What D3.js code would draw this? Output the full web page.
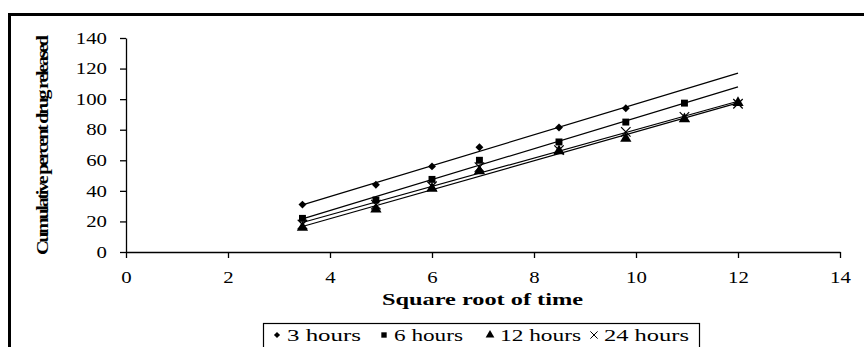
<!DOCTYPE html>
<html>
<head>
<meta charset="utf-8">
<script src="https://cdn.jsdelivr.net/npm/d3@7"></script>
<style>
  body { margin: 0; background: #fff; }
  svg text { font-family: "Liberation Serif", "Times New Roman", serif; fill: #000; }
</style>
</head>
<body>
<svg id="chart" width="864" height="347"></svg>
<script>
// sqrt(time) sampling points
const xs = [3.46, 4.9, 6, 6.93, 8.49, 9.8, 10.95, 12];

// cumulative percent drug released per series (null = no point)
const hours3 = [31, 44, 56, 68.5, 81.5, 94, null, null];
const hours6 = [22, 34, 47.5, 60, 72, 85, 97.4, null];
const hours12 = [16, 28, 41.6, 53, 66, 74.3, 87, 97.6];
const hours24 = [18, 31, 43, 55.5, 66.7, 78.6, 88.4, 97];

const seriesNames = ['3 hours', '6 hours', '12 hours', '24 hours'];
const xTicks = [0, 2, 4, 6, 8, 10, 12, 14];
const yTicks = [0, 20, 40, 60, 80, 100, 120, 140];

const series = [
  { name: seriesNames[0], values: hours3, symbol: d3.symbolDiamond2, size: 40 },
  { name: seriesNames[1], values: hours6, symbol: d3.symbolSquare, size: 48 },
  { name: seriesNames[2], values: hours12, symbol: d3.symbolTriangle, size: 55 },
  { name: seriesNames[3], values: hours24, symbol: d3.symbolTimes, size: 60 }
];

const svg = d3.select('#chart');
const stretch = 1.3; // the original text is drawn wide

// outer frame (cut off at right and bottom like the original)
svg.append('rect')
  .attr('x', 9.5).attr('y', 14.5)
  .attr('width', 900).attr('height', 400)
  .attr('fill', 'none').attr('stroke', '#000').attr('stroke-width', 3);

const x = d3.scaleLinear().domain([0, 14]).range([126, 840]);
const y = d3.scaleLinear().domain([0, 140]).range([252, 38]);

const yAxis = svg.append('g')
  .attr('transform', 'translate(126,0)')
  .call(d3.axisLeft(y).tickValues(yTicks).tickSize(6).tickSizeOuter(0));
const xAxis = svg.append('g')
  .attr('transform', 'translate(0,252)')
  .call(d3.axisBottom(x).tickValues(xTicks).tickSize(6).tickSizeOuter(0));

[xAxis, yAxis].forEach(a => {
  a.select('.domain').attr('stroke', '#000').attr('stroke-width', 1.3);
  a.selectAll('.tick line').attr('stroke', '#000').attr('stroke-width', 1.3);
  a.selectAll('.tick text')
    .attr('font-size', 16)
    .attr('font-family', '"Liberation Serif", serif');
});
yAxis.selectAll('.tick text')
  .attr('x', -19 / stretch).attr('dy', '0.33em')
  .attr('transform', `scale(${stretch},1)`);
xAxis.selectAll('.tick text')
  .attr('y', 0).attr('dy', 0)
  .attr('transform', `translate(0,31) scale(${stretch},1)`);

// trendlines (least squares fit of each series)
function fit(vals) {
  const pts = xs.map((xv, i) => [xv, vals[i]]).filter(p => p[1] != null);
  const mx = d3.mean(pts, p => p[0]), my = d3.mean(pts, p => p[1]);
  const b = d3.sum(pts, p => (p[0] - mx) * (p[1] - my)) / d3.sum(pts, p => (p[0] - mx) ** 2);
  return xv => my + b * (xv - mx);
}

const line = d3.line().x(d => x(d[0])).y(d => y(d[1]));
series.forEach(s => {
  const f = fit(s.values);
  const ends = [xs[0], xs[xs.length - 1]];
  svg.append('path')
    .attr('d', line(ends.map(xv => [xv, f(xv)])))
    .attr('fill', 'none').attr('stroke', '#000').attr('stroke-width', 1.2);
});

// markers
series.forEach(s => {
  const sym = d3.symbol().type(s.symbol).size(s.size);
  svg.append('g').selectAll('path')
    .data(xs.map((xv, i) => [xv, s.values[i]]).filter(d => d[1] != null))
    .enter().append('path')
    .attr('transform', d => `translate(${x(d[0])},${y(d[1])})`)
    .attr('d', sym)
    .attr('fill', s.symbol === d3.symbolTimes ? 'none' : '#000')
    .attr('stroke', '#000')
    .attr('stroke-width', s.symbol === d3.symbolTimes ? 1.2 : 0);
});

// axis titles
svg.append('text')
  .attr('x', 382).attr('y', 305)
  .attr('font-size', 16).attr('font-weight', 'bold')
  .attr('textLength', 201).attr('lengthAdjust', 'spacingAndGlyphs')
  .text('Square root of time');

// y title: wide glyphs squeezed together, as in the original
const yStretch = 1.25;
svg.append('text')
  .attr('transform', `translate(48,145) rotate(-90) scale(${yStretch},1)`)
  .attr('text-anchor', 'middle')
  .attr('font-size', 16).attr('font-weight', 'bold')
  .attr('textLength', 220 / yStretch).attr('lengthAdjust', 'spacing')
  .text('Cumulative percent drug released');

// legend
const legend = svg.append('g');
legend.append('rect')
  .attr('x', 263.5).attr('y', 323.5).attr('width', 436).attr('height', 40)
  .attr('fill', '#fff').attr('stroke', '#000').attr('stroke-width', 1.2);

const legendX = [277, 384, 490, 594];
const legendW = [74, 69, 81, 85];
series.forEach((s, i) => {
  const sym = d3.symbol().type(s.symbol).size(s.size * 0.6);
  legend.append('path')
    .attr('transform', `translate(${legendX[i]},335)`)
    .attr('d', sym)
    .attr('fill', s.symbol === d3.symbolTimes ? 'none' : '#000')
    .attr('stroke', '#000')
    .attr('stroke-width', s.symbol === d3.symbolTimes ? 1 : 0);
  legend.append('text')
    .attr('x', legendX[i] + 10).attr('y', 341)
    .attr('font-size', 16)
    .attr('textLength', legendW[i]).attr('lengthAdjust', 'spacingAndGlyphs')
    .text(s.name);
});
</script>
</body>
</html>
